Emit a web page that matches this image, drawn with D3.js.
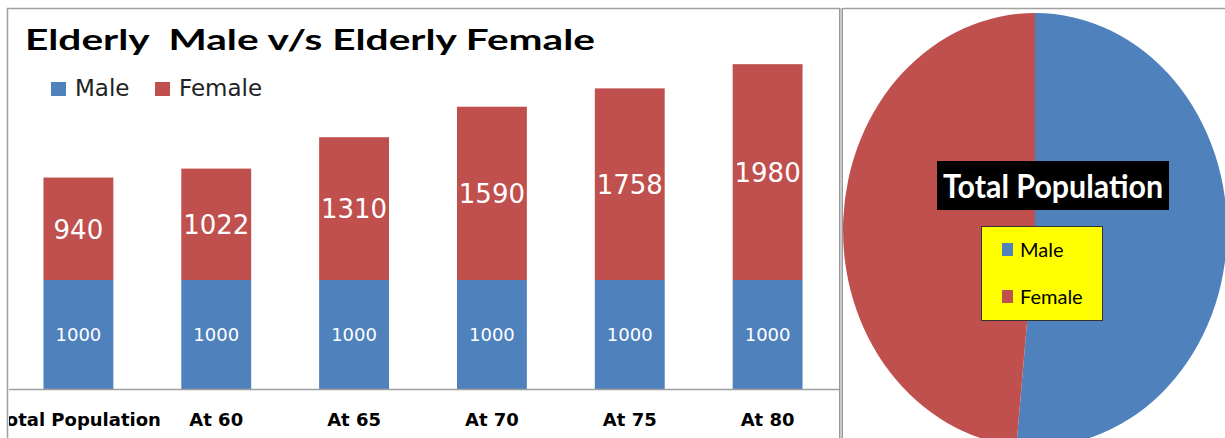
<!DOCTYPE html>
<html>
<head>
<meta charset="utf-8">
<script src="https://cdn.jsdelivr.net/npm/d3@7"></script>
<style>
  body { margin: 0; background: #fff; }
  svg { display: block; }
</style>
</head>
<body>
<div id="chart"></div>
<script>
// data
const categories = ["Total Population", "At 60", "At 65", "At 70", "At 75", "At 80"];
const maleValues = [1000, 1000, 1000, 1000, 1000, 1000];
const femaleValues = [940, 1022, 1310, 1590, 1758, 1980];
const seriesNames = ["Male", "Female"];
const pieLabels = ["Male", "Female"];
const pieValues = [1000, 940];

const width = 1225, height = 438;
const blue = "#4F81BD", red = "#C0504D";

const svg = d3.select("#chart").append("svg")
    .attr("width", width)
    .attr("height", height);

// ---- left panel: stacked bars ----
svg.append("defs").append("clipPath").attr("id", "leftClip")
    .append("rect").attr("x", 9).attr("y", 8).attr("width", 831).attr("height", 440);

const left = svg.append("g").attr("clip-path", "url(#leftClip)");

// panel frame
svg.append("path")
    .attr("d", "M7.5,440 V8.5 H840")
    .attr("fill", "none").attr("stroke", "#a0a0a0").attr("stroke-width", 1.5);
svg.append("path")
    .attr("d", "M843,8.5 H1225")
    .attr("fill", "none").attr("stroke", "#a0a0a0").attr("stroke-width", 1.5);
svg.append("rect").attr("x", 839).attr("y", 8).attr("width", 4).attr("height", 430)
    .attr("fill", "#c8c8c8");
svg.append("line").attr("x1", 839.5).attr("x2", 839.5).attr("y1", 8).attr("y2", 438)
    .attr("stroke", "#999").attr("stroke-width", 1);
svg.append("line").attr("x1", 842.5).attr("x2", 842.5).attr("y1", 8).attr("y2", 438)
    .attr("stroke", "#999").attr("stroke-width", 1);

const x = d3.scaleBand()
    .domain(categories)
    .range([9, 837])
    .paddingInner(0.493)
    .paddingOuter(0.25);

const y = d3.scaleLinear()
    .domain([0, 1000])
    .range([389, 280]);

const rows = categories.map((c, i) => ({ cat: c, Male: maleValues[i], Female: femaleValues[i] }));
const stacked = d3.stack().keys(seriesNames)(rows);

left.selectAll("g.series")
    .data(stacked)
    .enter().append("g")
    .attr("fill", d => d.key === "Male" ? blue : red)
    .selectAll("rect")
    .data(d => d)
    .enter().append("rect")
    .attr("x", d => x(d.data.cat))
    .attr("width", x.bandwidth())
    .attr("y", d => y(d[1]))
    .attr("height", d => y(d[0]) - y(d[1]));

// value labels
left.selectAll("text.male")
    .data(stacked[0])
    .enter().append("text")
    .attr("x", d => x(d.data.cat) + x.bandwidth() / 2)
    .attr("y", d => (y(d[0]) + y(d[1])) / 2)
    .attr("dy", "0.36em")
    .attr("text-anchor", "middle")
    .attr("fill", "#fff")
    .style("font-family", "DejaVu Sans, Verdana, sans-serif")
    .style("font-size", "18px")
    .text(d => d.data.Male);

left.selectAll("text.female")
    .data(stacked[1])
    .enter().append("text")
    .attr("x", d => x(d.data.cat) + x.bandwidth() / 2)
    .attr("y", d => (y(d[0]) + y(d[1])) / 2)
    .attr("dy", "0.38em")
    .attr("text-anchor", "middle")
    .attr("fill", "#fff")
    .style("font-family", "DejaVu Sans, Verdana, sans-serif")
    .style("font-size", "26px")
    .text(d => d.data.Female);

// x axis
const xAxis = left.append("g")
    .attr("transform", "translate(0,389)")
    .call(d3.axisBottom(x).tickSize(0).tickPadding(24));
xAxis.select(".domain").attr("d", "M9,0.5H840").attr("stroke", "#a0a0a0").attr("stroke-width", 1.5);
xAxis.selectAll("text")
    .attr("fill", "#000")
    .style("font-family", "DejaVu Sans, Verdana, sans-serif")
    .style("font-weight", "bold")
    .style("font-size", "18px");

// title
svg.append("text")
    .attr("x", 25).attr("y", 50)
    .attr("textLength", 570)
    .attr("lengthAdjust", "spacingAndGlyphs")
    .style("white-space", "pre")
    .style("font-family", "Lato, sans-serif")
    .style("font-weight", "bold")
    .style("font-size", "28px")
    .attr("fill", "#000")
    .text("Elderly  Male v/s Elderly Female");

// legend
const legendX = [51, 155];
const legend = svg.append("g");
seriesNames.forEach((name, i) => {
    legend.append("rect")
        .attr("x", legendX[i]).attr("y", 82)
        .attr("width", 15).attr("height", 14)
        .attr("fill", i === 0 ? blue : red);
    legend.append("text")
        .attr("x", legendX[i] + 24).attr("y", 96)
        .style("font-family", "DejaVu Sans, Verdana, sans-serif")
        .style("font-size", "23px")
        .attr("fill", "#222")
        .text(name);
});

// ---- right panel: pie ----
const cx = 1035, cy = 230, rx = 192, ry = 217;
const pie = d3.pie().sort(null).value(d => d)(pieValues);
const arc = d3.arc().innerRadius(0).outerRadius(ry);

const pieG = svg.append("g")
    .attr("transform", `translate(${cx},${cy}) scale(${rx / ry},1)`);
pieG.selectAll("path")
    .data(pie)
    .enter().append("path")
    .attr("d", arc)
    .attr("fill", (d, i) => i === 0 ? blue : red);

// pie title box
svg.append("rect")
    .attr("x", 937).attr("y", 161).attr("width", 232).attr("height", 49)
    .attr("fill", "#000");
svg.append("text")
    .attr("x", 943).attr("y", 198)
    .attr("textLength", 220)
    .attr("lengthAdjust", "spacingAndGlyphs")
    .style("font-family", "Lato, sans-serif")
    .style("font-weight", "bold")
    .style("font-size", "33px")
    .attr("fill", "#fff")
    .text("Total Population");

// pie legend
svg.append("rect")
    .attr("x", 981.5).attr("y", 226.5).attr("width", 121).attr("height", 94)
    .attr("fill", "#ffff00").attr("stroke", "#333").attr("stroke-width", 1);
pieLabels.forEach((name, i) => {
    svg.append("rect")
        .attr("x", 1002).attr("y", 243 + i * 47)
        .attr("width", 11).attr("height", 13)
        .attr("fill", i === 0 ? blue : red);
    svg.append("text")
        .attr("x", 1020).attr("y", 257 + i * 47)
        .style("font-family", "Lato, sans-serif")
        .style("font-size", "20px")
        .attr("fill", "#000")
        .text(name);
});
</script>
</body>
</html>
